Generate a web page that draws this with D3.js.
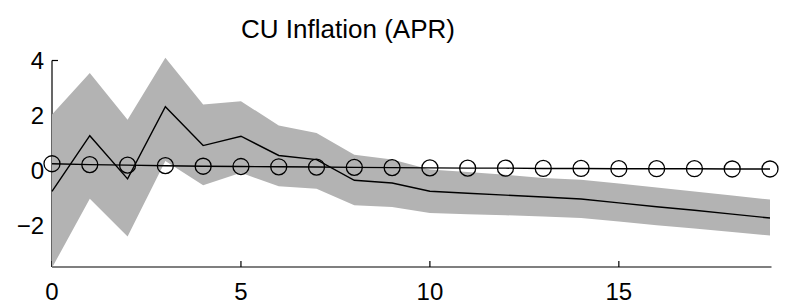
<!DOCTYPE html>
<html>
<head>
<meta charset="utf-8">
<script src="https://cdn.jsdelivr.net/npm/d3@7"></script>
<style>
  html, body { margin: 0; padding: 0; background: #fff; }
  svg { display: block; font-family: 'Liberation Sans', Arial, sans-serif; }
</style>
</head>
<body>
<svg id="chart" width="796" height="305"></svg>
<script>
const title = 'CU Inflation (APR)'

// horizon 0..19
const horizons = d3.range(0, 20)
const upper = [2.04, 3.55, 1.85, 4.1, 2.4, 2.52, 1.64, 1.37, 0.58, 0.4, 0.04, -0.05, -0.15, -0.27, -0.33, -0.47, -0.61, -0.76, -0.9, -1.05]
const median = [-0.75, 1.27, -0.3, 2.32, 0.91, 1.25, 0.55, 0.4, -0.35, -0.45, -0.75, -0.82, -0.89, -0.96, -1.03, -1.17, -1.31, -1.44, -1.58, -1.72]
const lower = [-3.53, -1.02, -2.39, 0.35, -0.53, -0.08, -0.57, -0.66, -1.26, -1.32, -1.54, -1.58, -1.62, -1.67, -1.72, -1.85, -1.98, -2.1, -2.23, -2.36]
const baseline = [0.25, 0.22, 0.2, 0.18, 0.16, 0.15, 0.14, 0.13, 0.12, 0.11, 0.1, 0.09, 0.09, 0.08, 0.08, 0.07, 0.07, 0.07, 0.06, 0.06]

const xTicks = [0, 5, 10, 15]
const yTicks = [-2, 0, 2, 4]

const plot = d3.select('#chart')

const x = d3.scaleLinear().domain([0, 19]).range([52, 770])
const y = d3.scaleLinear().domain([-3.5, 4]).range([267, 60.5])

const tickLen = 6

// axes (matlab style, box off, ticks inward)
const axes = plot.append('g').attr('stroke', '#000').attr('stroke-width', 1.2)
axes.append('line')
  .attr('x1', x(0)).attr('x2', x(19) + 1.5)
  .attr('y1', y(-3.5)).attr('y2', y(-3.5))
axes.append('line')
  .attr('x1', x(0)).attr('x2', x(0))
  .attr('y1', y(-3.5)).attr('y2', y(4))
axes.selectAll('.xt')
  .data(xTicks)
  .join('line')
  .attr('x1', d => x(d)).attr('x2', d => x(d))
  .attr('y1', y(-3.5)).attr('y2', y(-3.5) - tickLen)
axes.selectAll('.yt')
  .data(yTicks)
  .join('line')
  .attr('x1', x(0)).attr('x2', x(0) + tickLen)
  .attr('y1', d => y(d)).attr('y2', d => y(d))

// confidence band
const band = horizons.map((h, i) => ({h, lo: lower[i], hi: upper[i]}))
const area = d3.area()
  .x(d => x(d.h))
  .y0(d => y(d.lo))
  .y1(d => y(d.hi))
plot.append('path')
  .datum(band)
  .attr('d', area)
  .attr('fill', '#b3b3b3')

// median response
const line = d3.line()
  .x(d => x(d[0]))
  .y(d => y(d[1]))
plot.append('path')
  .datum(horizons.map((h, i) => [h, median[i]]))
  .attr('d', line)
  .attr('fill', 'none')
  .attr('stroke', '#000')
  .attr('stroke-width', 1.4)

// circle line
const circ = horizons.map((h, i) => [h, baseline[i]])
plot.append('path')
  .datum(circ)
  .attr('d', line)
  .attr('fill', 'none')
  .attr('stroke', '#000')
  .attr('stroke-width', 1.4)
plot.append('g')
  .selectAll('circle')
  .data(circ)
  .join('circle')
  .attr('cx', d => x(d[0]))
  .attr('cy', d => y(d[1]))
  .attr('r', 8)
  .attr('fill', 'none')
  .attr('stroke', '#000')
  .attr('stroke-width', 1.3)

// tick labels
plot.append('g')
  .selectAll('text')
  .data(xTicks)
  .join('text')
  .attr('x', d => x(d))
  .attr('y', 300)
  .attr('text-anchor', 'middle')
  .attr('font-size', 24)
  .text(d => d)

plot.append('g')
  .selectAll('text')
  .data(yTicks)
  .join('text')
  .attr('x', 44)
  .attr('y', d => y(d) + 8.5)
  .attr('text-anchor', 'end')
  .attr('font-size', 24)
  .text(d => d < 0 ? '\u2212' + Math.abs(d) : d)

plot.append('text')
  .attr('x', 348)
  .attr('y', 38)
  .attr('text-anchor', 'middle')
  .attr('font-size', 26)
  .text(title)
</script>
</body>
</html>
